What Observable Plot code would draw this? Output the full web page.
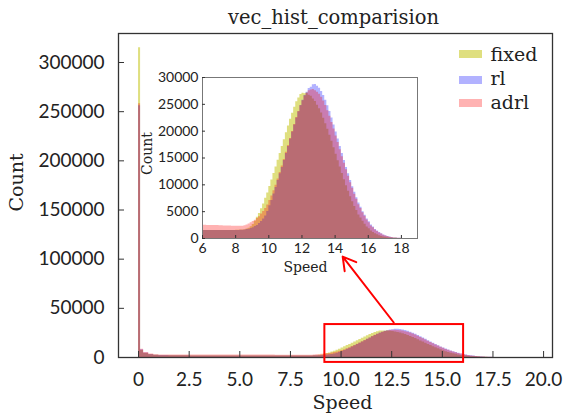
<!DOCTYPE html>
<html>
<head>
<meta charset="utf-8">
<script src="https://cdn.jsdelivr.net/npm/d3@7"></script>
<script src="https://cdn.jsdelivr.net/npm/@observablehq/plot@0.6"></script>
<style>
  body { margin: 0; background: #fff; }
  #wrap { position: relative; width: 563px; height: 416px; overflow: hidden; background: #fff; }
  #wrap svg { position: absolute; left: 0; top: 0; }
  .patch { position: absolute; width: 23px; height: 8px; }
</style>
</head>
<body>
<div id="wrap"></div>
<script>
// ---- bin edges (Speed) ----
const edges = [0,0.1,0.25,0.5,0.75,1,1.5,2,2.5,3,3.5,4,4.5,5,5.5,6,
  6.25,6.5,6.75,7,7.25,7.5,7.75,8,8.25,8.5,
  8.625,8.75,8.875,9,9.125,9.25,9.375,9.5,9.625,9.75,9.875,10,
  10.125,10.25,10.375,10.5,10.625,10.75,10.875,11,11.125,11.25,11.375,11.5,11.625,11.75,11.875,12,
  12.125,12.25,12.375,12.5,12.625,12.75,12.875,13,13.125,13.25,13.375,13.5,13.625,13.75,13.875,14,
  14.125,14.25,14.375,14.5,14.625,14.75,14.875,15,15.125,15.25,15.375,15.5,15.625,15.75,15.875,16,
  16.125,16.25,16.375,16.5,16.625,16.75,16.875,17,17.125,17.25,17.375,17.5,
  17.75,18];

// ---- counts: low-speed bins (0..6) ----
const fixedLow = [315000,7000,4000,2800,2200,1900,1800,1700,1650,1600,1550,1550,1500,1500,1500];
const rlLow    = [256000,8000,4500,3000,2300,2000,1850,1750,1650,1600,1550,1500,1500,1500,1500];
const adrlLow  = [258000,8500,5000,3500,2800,2600,2550,2500,2500,2500,2480,2470,2460,2450,2450];

// ---- counts: 6..8.5 (width 0.25) ----
const fixedMid = [1500,1500,1490,1480,1480,1490,1500,1510,1530,1580];
const rlMid    = [1500,1500,1490,1480,1470,1480,1490,1500,1500,1540];
const adrlMid  = [2450,2440,2420,2400,2380,2350,2330,2300,2280,2300];

// ---- counts: 8.5..17.5 (width 0.125) ----
const fixedFine = [1650,1760,1900,2200,2600,3200,3950,4650,5550,6450,7500,8500,
  9700,10900,12100,13300,14600,15850,17150,18400,19700,20950,22200,23350,24450,25500,26200,26850,
  27050,26950,27100,26700,26500,26000,25550,24850,24200,23400,22400,21400,20350,19250,18100,16900,
  15700,14500,13300,12100,10950,9850,8800,7800,6850,5950,5200,4400,3800,3200,2650,2150,
  1800,1400,1130,870,680,520,390,290,210,150,95,65];
const rlFine = [1580,1660,1730,1870,1980,2220,2430,2780,3150,3650,4200,5050,
  6100,7100,8300,9500,10800,12050,13250,14550,15850,17150,18550,19850,21150,22450,23600,24800,
  25750,26650,27250,27950,28200,28650,28700,28350,28000,27400,26650,25750,24750,23650,22450,21150,
  19850,18550,17150,15850,14550,13250,12050,10800,9650,8600,7600,6600,5800,5000,4350,3650,
  3100,2500,2120,1680,1400,1100,890,670,520,380,280,200];
const adrlFine = [2380,2530,2680,2920,3180,3420,3750,4050,4550,5050,5600,6250,
  7100,7900,8900,9900,11100,12300,13500,14700,16050,17350,18650,19950,21250,22550,23650,24750,
  25650,26550,27050,27550,27650,27750,27550,27250,26900,26300,25600,24800,23800,22800,21600,20400,
  19100,17900,16550,15250,14000,12800,11600,10400,9350,8250,7300,6300,5600,4800,4150,3450,
  2950,2350,2000,1600,1320,1040,820,620,470,350,240,180];

// ---- counts: 17.5..18 (width 0.25) ----
const fixedTail = [30,10];
const rlTail    = [110,40];
const adrlTail  = [95,30];

const seriesNames = ["fixed", "rl", "adrl"];
const seriesColors = ["#bfbf00", "#0000ff", "#ff0000"];
const seriesOpacity = [0.5, 0.3, 0.3];
const seriesCounts = [
  [...fixedLow, ...fixedMid, ...fixedFine, ...fixedTail],
  [...rlLow, ...rlMid, ...rlFine, ...rlTail],
  [...adrlLow, ...adrlMid, ...adrlFine, ...adrlTail]
];

// ---- ticks ----
const mainXTicks = [0, 2.5, 5, 7.5, 10, 12.5, 15, 17.5, 20];
const mainXTickLabels = ["0", "2.5", "5.0", "7.5", "10.0", "12.5", "15.0", "17.5", "20.0"];
const mainYTicks = [0, 50000, 100000, 150000, 200000, 250000, 300000];
const insetXTicks = [6, 8, 10, 12, 14, 16, 18];
const insetYTicks = [0, 5000, 10000, 15000, 20000, 25000, 30000];

// ---- annotations (data coordinates of main axes) ----
const zoomBox = [{x1: 9.2, x2: 16.05, y1: -5000, y2: 33500}];
const zoomArrow = [{x1: 12.6, y1: 35600, x2: 10.08, y2: 102600}];

const titleText = "vec_hist_comparision";
const xLabel = "Speed";
const yLabel = "Count";

seriesCounts.forEach((c, i) => {
  if (c.length !== edges.length - 1) throw new Error(seriesNames[i] + " has " + c.length + " bins, edges give " + (edges.length - 1));
});

function stepPoints(counts) {
  const pts = counts.map((c, i) => ({x: edges[i], y: c}));
  pts.push({x: edges[counts.length], y: counts[counts.length - 1]});
  return pts;
}
const series = seriesNames.map((name, i) => ({
  name, pts: stepPoints(seriesCounts[i]), color: seriesColors[i], opacity: seriesOpacity[i]
}));
const xLabelMap = new Map(mainXTicks.map((t, i) => [t, mainXTickLabels[i]]));

const serif = "DejaVu Serif, serif";
const sans = "Lato, 'Open Sans', 'DejaVu Sans', sans-serif";
const label = (txt, o) => Plot.text([txt], {text: d => d, lineAnchor: "middle", textAnchor: "middle", fontFamily: serif, fill: "#222", ...o});

const main = Plot.plot({
  width: 563, height: 416,
  marginLeft: 118, marginRight: 11, marginTop: 33, marginBottom: 59,
  x: {domain: [-0.99, 20.44]},
  y: {domain: [0, 329500]},
  style: {background: "transparent", fontFamily: sans, fontSize: "19px", color: "#222"},
  marks: [
    ...series.map(s => Plot.areaY(s.pts, {x: "x", y: "y", curve: "step-after", fill: s.color, fillOpacity: s.opacity})),
    Plot.frame({stroke: "#333", strokeWidth: 1.3}),
    Plot.axisX({ticks: mainXTicks, tickFormat: d => xLabelMap.get(d), tickSize: -6, tickPadding: 20.5, label: null, stroke: "#333", fontFamily: sans}),
    Plot.axisY({ticks: mainYTicks, tickFormat: d => String(d), tickSize: -6, tickPadding: 20, label: null, stroke: "#333", fontFamily: sans}),
    Plot.rect(zoomBox, {x1: "x1", x2: "x2", y1: "y1", y2: "y2", stroke: "#ff0000", fill: "none", strokeWidth: 2}),
    Plot.arrow(zoomArrow, {x1: "x1", y1: "y1", x2: "x2", y2: "y2", stroke: "#ff0000", strokeWidth: 2, headLength: 11}),
    label(titleText, {frameAnchor: "top", dx: -2, dy: -16, fontSize: 19.5}),
    label(xLabel, {frameAnchor: "bottom", dx: 7, dy: 45, fontSize: 19}),
    label(yLabel, {frameAnchor: "left", rotate: -90, dx: -102, dy: -13, fontSize: 19}),
    ...seriesNames.map((n, i) => label(n, {frameAnchor: "top-left", textAnchor: "start", dx: 372, dy: 21 + 24 * i, fontSize: 19}))
  ]
});

const inset = Plot.plot({
  width: 563, height: 416,
  marginLeft: 202, marginRight: 146, marginTop: 77, marginBottom: 178,
  x: {domain: [6, 18.97]},
  y: {domain: [0, 30000]},
  style: {background: "transparent", fontFamily: sans, fontSize: "14px", color: "#222"},
  marks: [
    Plot.frame({fill: "white", stroke: "none"}),
    ...series.map(s => Plot.areaY(s.pts, {x: "x", y: "y", curve: "step-after", fill: s.color, fillOpacity: s.opacity, clip: true})),
    Plot.frame({stroke: "#777", strokeWidth: 1}),
    Plot.axisX({ticks: insetXTicks, tickFormat: d => String(d), tickSize: -3, tickPadding: 8, label: null, stroke: "#333", fontFamily: sans}),
    Plot.axisY({ticks: insetYTicks, tickFormat: d => String(d), tickSize: -3, tickPadding: 7, label: null, stroke: "#333", fontFamily: sans}),
    label(xLabel, {frameAnchor: "bottom", dx: -4.5, dy: 29.5, fontSize: 14}),
    label(yLabel, {frameAnchor: "left", rotate: -90, dx: -55, dy: -4.5, fontSize: 14})
  ]
});

const wrap = document.getElementById("wrap");
wrap.appendChild(main);
wrap.appendChild(inset);

// legend patches
const patchTops = [50, 76, 99];
seriesNames.forEach((n, i) => {
  const d = document.createElement("div");
  d.className = "patch";
  d.style.left = "459px";
  d.style.top = patchTops[i] + "px";
  d.style.background = seriesColors[i];
  d.style.opacity = seriesOpacity[i];
  wrap.appendChild(d);
});
</script>
</body>
</html>
